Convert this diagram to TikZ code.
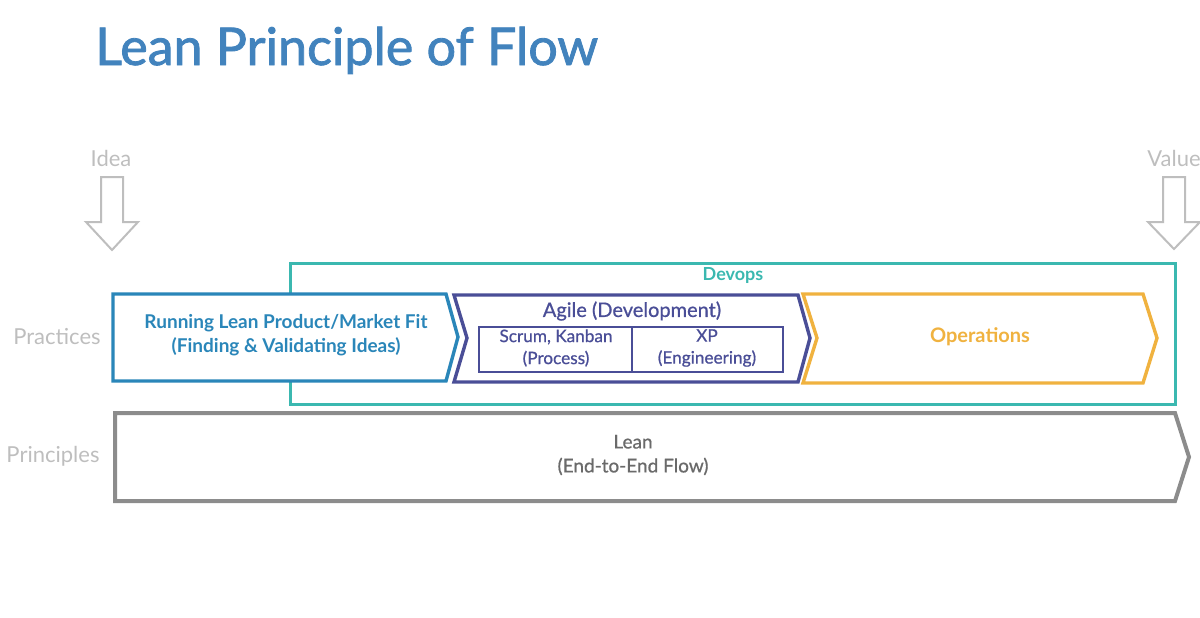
\documentclass[tikz,border=0pt]{standalone}
\usepackage{fontspec}
\setmainfont{Lato}
\newfontfamily\medfont{Lato}[FakeBold=0.7]
\newfontfamily\titlefont{Lato}[FakeBold=1.6]
\usepackage{tikz}

\definecolor{titleblue}{HTML}{4283BD}
\definecolor{leanblue}{HTML}{2A86B9}
\definecolor{devteal}{HTML}{3BB8B0}
\definecolor{agileblue}{HTML}{4A4E97}
\definecolor{opsorange}{HTML}{F0B23F}
\definecolor{flowgray}{HTML}{8C8C8C}
\definecolor{lightgray}{HTML}{BEBEBE}
\definecolor{leantext}{HTML}{6A6A6A}

\tikzset{
  chev/.style={line width=1.7pt, fill=white, line join=miter},
  sidelabel/.style={text=lightgray, font=\fontsize{11}{13}\selectfont},
  boxtext/.style={align=center, font=\medfont\fontsize{9}{11.5}\selectfont},
  hollow/.style={draw=lightgray, line width=1pt, fill=white}
}

\begin{document}
\begin{tikzpicture}[x=0.5pt,y=-0.5pt]
\useasboundingbox (0,0) rectangle (1200,617);

\node[anchor=base west, inner sep=0pt, text=titleblue, font=\titlefont\fontsize{26}{29}\selectfont] (title) at (95,65) {Lean Principle of Flow};

% idea and value
\node[sidelabel] (idea) at (111,158) {Idea};
\draw[hollow] (101,177) -- (123,177) -- (123,222) -- (138,222) -- (112,250) -- (86,222) -- (101,222) -- cycle;
\node[sidelabel] (value) at (1174,158) {Value};
\draw[hollow] (1163,177) -- (1185,177) -- (1185,222) -- (1200,222) -- (1174,249) -- (1148,222) -- (1163,222) -- cycle;

\node[sidelabel] (practices) at (57,337) {Practices};
\node[sidelabel] (principles) at (53,456) {Principles};

% devops frame
\draw[devteal, line width=1.5pt] (290,263) rectangle (1175,404);
\node[text=devteal, font=\bfseries\fontsize{9}{11}\selectfont] (devops) at (733,275) {Devops};

% practices
\draw[chev, draw=leanblue] (113,294) -- (446,294) -- (458,337) -- (446,381) -- (113,381) -- cycle;
\node[boxtext, text=leanblue, font=\bfseries\fontsize{9.5}{12}\selectfont] (running) at (286,335)
  {Running Lean Product/Market Fit\\(Finding \& Validating Ideas)};

\draw[chev, draw=agileblue] (454,295) -- (798,295) -- (810,338) -- (798,382) -- (454,382) -- (467,338) -- cycle;
\node[text=agileblue, font=\medfont\fontsize{10}{12}\selectfont] (agile) at (632,311) {Agile (Development)};
\draw[agileblue, line width=1.2pt] (479,327) rectangle (783,372);
\draw[agileblue, line width=1.2pt] (632,327) -- (632,372);
\node[boxtext, text=agileblue, font=\medfont\fontsize{8.6}{11}\selectfont] (scrum) at (556,348) {Scrum, Kanban\\(Process)};
\node[boxtext, text=agileblue, font=\medfont\fontsize{8.6}{11}\selectfont] (xp) at (707,348) {XP\\(Engineering)};

\draw[chev, draw=opsorange] (803,294) -- (1143,294) -- (1157,338) -- (1143,383) -- (803,383) -- (817,338) -- cycle;
\node[text=opsorange, font=\bfseries\fontsize{10}{12}\selectfont] (ops) at (980,337) {Operations};

% principles
\draw[chev, draw=flowgray, line width=2pt] (115,413) -- (1175,413) -- (1189,457) -- (1175,501) -- (115,501) -- cycle;
\node[boxtext, text=leantext, font=\medfont\fontsize{9.5}{12}\selectfont] (lean) at (633,455) {Lean\\(End-to-End Flow)};
\end{tikzpicture}
\end{document}
